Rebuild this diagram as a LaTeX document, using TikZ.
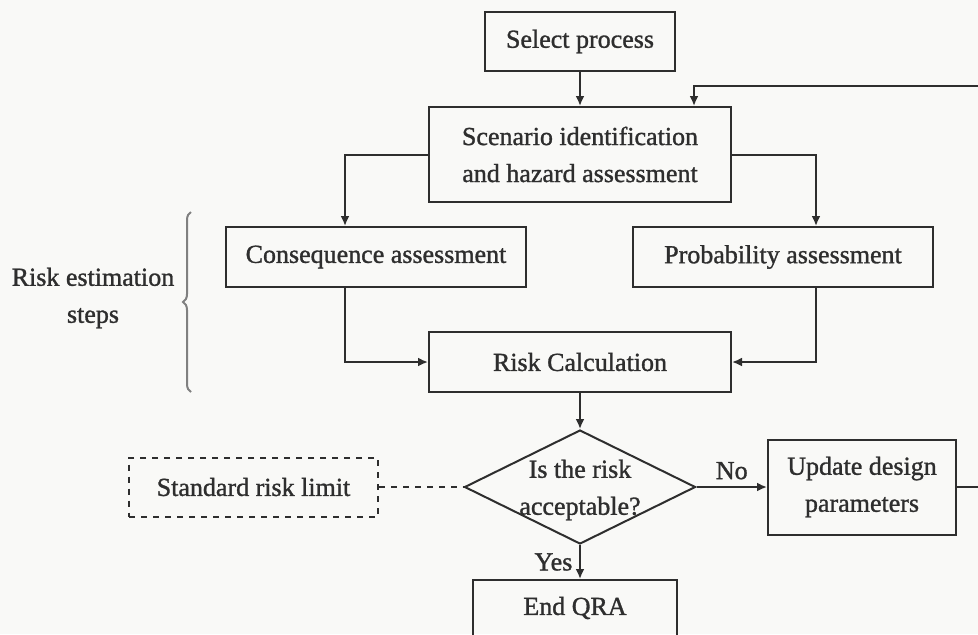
\documentclass[tikz,border=0pt]{standalone}
\usepackage{fontspec}
\setmainfont{Liberation Serif}
\newfontfamily\inkfont{Liberation Serif}[FakeBold=1.2]
\usetikzlibrary{shapes.geometric,decorations.pathreplacing,arrows.meta}
\definecolor{ink}{rgb}{0.18,0.18,0.18}
\definecolor{paper}{rgb}{0.975,0.975,0.97}
\begin{document}
\begin{tikzpicture}
    [x=0.5pt,y=-0.5pt,
     every node/.style={font=\inkfont\fontsize{13}{18.5}\selectfont,text=ink},
     arr/.style={draw=ink,line width=1pt,-{Latex[length=5pt,width=4.5pt]}}]
    \tikzstyle{box}=[draw=ink,line width=1pt,align=center,inner sep=0pt]
    \tikzstyle{decide}=[diamond,draw=ink,line width=1pt,aspect=2.03,
      minimum width=115.5pt,minimum height=57pt,inner sep=0pt]
    \fill[paper] (0,0) rectangle (978,634);
    \useasboundingbox (0,0) rectangle (978,634);
    \node[box,minimum width=95pt,minimum height=29.5pt] (select) at (580,41.5) {Select process};
    \node[box,minimum width=151pt,minimum height=47.5pt] (scen) at (580,154.5)
      {Scenario identification\\and hazard assessment};
    \node[box,minimum width=150pt,minimum height=30pt] (cons) at (376,257) {Consequence assessment};
    \node[box,minimum width=150pt,minimum height=30pt] (prob) at (783,257) {Probability assessment};
    \node[box,minimum width=151pt,minimum height=30pt] (calc) at (580,362) {Risk Calculation};
    \node[decide,label={[align=center,yshift=-1.5pt]center:Is the risk\\acceptable?}] (dec) at (580,487) {};
    \node[box,minimum width=94pt,minimum height=47.5pt] (upd) at (862,487)
      {Update design\\parameters};
    \node[box,dashed,minimum width=124.5pt,minimum height=29.5pt] (limit) at (253.5,487)
      {Standard risk limit};
    \node[box,minimum width=102pt,minimum height=28pt] (endq) at (575,608) {End QRA};
    \node[align=center] (steps) at (93,298) {Risk estimation\\steps};
    \coordinate (loop) at (995,86);
    % connectors
    \draw[arr] (select) -- (scen);
    \draw[arr] (scen.west) -| ([xshift=-15.5pt]cons.north);
    \draw[arr] (scen.east) -| ([xshift=16.5pt]prob.north);
    \draw[arr] ([xshift=-15.5pt]cons.south) |- (calc.west);
    \draw[arr] ([xshift=16.5pt]prob.south) |- (calc.east);
    \draw[arr] (calc.south) -- (dec.north);
    \draw[arr] (dec.east) -- node[above] {No} (upd.west);
    \draw[arr] (dec.south) -- node[left] {Yes} (dec.south |- endq.north);
    \draw[draw=ink,line width=1pt,dashed] (limit.east) -- (dec.west);
    \draw[arr] (upd.east) -| (loop) -| ([xshift=57pt]scen.north);
    \draw[gray,line width=1pt,decorate,decoration={brace,amplitude=4pt}] (191,392) -- (191,212);
\end{tikzpicture}
\end{document}
